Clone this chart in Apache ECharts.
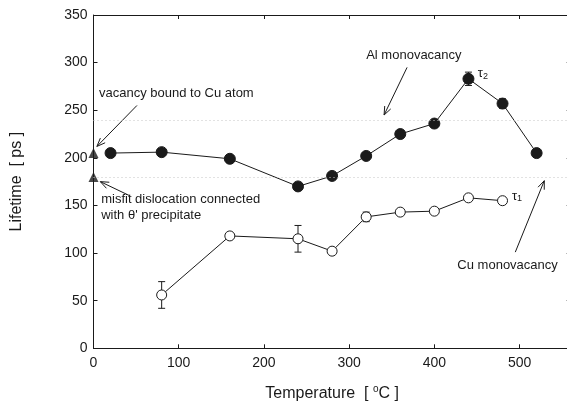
<!DOCTYPE html>
<html>
<head>
<meta charset="utf-8">
<script src="https://cdn.jsdelivr.net/npm/echarts@6/dist/echarts.min.js"></script>
<style>
  html, body { margin: 0; padding: 0; background: #fff; }
  #chart { width: 567px; height: 406px; }
</style>
</head>
<body>
<div id="chart"></div>
<script>
// temperatures and lifetimes
const temps2 = [20, 80, 160, 240, 280, 320, 360, 400, 440, 480, 520]
const tau2 = [205, 206, 199, 170, 181, 202, 225, 236, 283, 257, 205]
const err2 = [0, 0, 0, 0, 0, 0, 0, 0, 7, 5, 0]

const temps1 = [80, 160, 240, 280, 320, 360, 400, 440, 480]
const tau1 = [56, 118, 115, 102, 138, 143, 144, 158, 155]
const err1 = [14, 0, 14, 0, 5, 0, 0, 0, 0]

// calculated lifetimes at 0 °C (triangles)
const theoryT = [0, 0]
const theoryV = [205, 180]

// dotted reference levels
const refLevels = [180, 240]

const xTicks = [0, 100, 200, 300, 400, 500]
const yTicks = [0, 50, 100, 150, 200, 250, 300, 350]

const font = 'Liberation Sans, Arial, sans-serif'
const ink = '#1a1a1a'

const chart = echarts.init(document.getElementById('chart'), null, { renderer: 'canvas' })

const errorBars = (xs, ys, es) => ({
  type: 'custom',
  data: xs.map((x, i) => [x, ys[i], es[i]]).filter(d => d[2] > 0),
  z: 1,
  renderItem: (params, api) => {
    const x = api.value(0), y = api.value(1), e = api.value(2)
    const top = api.coord([x, y + e])
    const bot = api.coord([x, y - e])
    const w = 3.5
    const st = { stroke: ink, lineWidth: 1 }
    return {
      type: 'group',
      children: [
        { type: 'line', shape: { x1: top[0], y1: top[1], x2: bot[0], y2: bot[1] }, style: st },
        { type: 'line', shape: { x1: top[0] - w, y1: top[1], x2: top[0] + w, y2: top[1] }, style: st },
        { type: 'line', shape: { x1: bot[0] - w, y1: bot[1], x2: bot[0] + w, y2: bot[1] }, style: st },
      ],
    }
  },
})

const axisCommon = {
  axisLine: { onZero: false, lineStyle: { color: ink, width: 1 } },
  axisTick: { inside: true, length: 4, lineStyle: { color: ink } },
  splitLine: { show: false },
}

chart.setOption({
  animation: false,
  backgroundColor: '#fff',
  grid: { left: 93.5, right: -3.7, top: 15, bottom: 57.7, outerBoundsMode: 'none', containLabel: false },
  xAxis: [
    {
      ...axisCommon, type: 'value', min: 0, max: 560, interval: 100,
      position: 'bottom',
      axisLabel: { color: ink, fontSize: 14, fontFamily: font, margin: 8,
        formatter: v => xTicks.includes(v) ? String(v) : '' },
      name: '{n|Temperature  [ }{s|o}{n|C ]}',
      nameLocation: 'middle', nameGap: 36,
      nameTextStyle: {
        rich: {
          n: { fontSize: 16, fontFamily: font, color: ink },
          s: { fontSize: 10, fontFamily: font, color: ink, verticalAlign: 'top', padding: [0, 0, 9, 0] },
        },
      },
    },
    { ...axisCommon, type: 'value', min: 0, max: 560, interval: 100, position: 'top', axisLabel: { show: false } },
  ],
  yAxis: [
    {
      ...axisCommon, type: 'value', min: 0, max: 350, interval: 50,
      position: 'left',
      axisLabel: { color: ink, fontSize: 14, fontFamily: font, margin: 6,
        formatter: v => yTicks.includes(v) ? String(v) : '' },
      name: 'Lifetime  [ ps ]', nameLocation: 'middle', nameGap: 69,
      nameTextStyle: { fontSize: 16, fontFamily: font, color: ink },
    },
    {
      ...axisCommon, type: 'value', min: 0, max: 350, interval: 50, position: 'right',
      axisLine: { show: false, onZero: false },
      axisLabel: { show: false },
    },
  ],
  series: [
    {
      type: 'line', name: 'ref', data: [], silent: true,
      markLine: {
        silent: true, symbol: 'none', label: { show: false },
        lineStyle: { color: '#c4c4c4', type: [1, 3], width: 1 },
        data: refLevels.map(v => ({ yAxis: v })),
      },
    },
    {
      type: 'line', name: 'tau2', data: temps2.map((t, i) => [t, tau2[i]]),
      symbol: 'circle', symbolSize: 11, z: 3,
      lineStyle: { color: ink, width: 1 },
      itemStyle: { color: ink, borderColor: ink, borderWidth: 1 },
    },
    {
      type: 'line', name: 'tau1', data: temps1.map((t, i) => [t, tau1[i]]),
      symbol: 'circle', symbolSize: 10, z: 3,
      lineStyle: { color: ink, width: 1 },
      itemStyle: { color: '#fff', borderColor: ink, borderWidth: 1 },
    },
    {
      type: 'scatter', name: 'theory', data: theoryT.map((t, i) => [t, theoryV[i]]),
      symbol: 'triangle', symbolSize: 10, clip: false, z: 4,
      itemStyle: { color: ink },
    },
    errorBars(temps2, tau2, err2),
    errorBars(temps1, tau1, err1),
  ],
})

// annotations: text (left edge, vertical centre) and arrows, in data coordinates
const notes = [
  { text: 'vacancy bound to Cu atom', at: [6.5, 268], from: [51, 255], to: [4, 212] },
  { text: 'misfit dislocation connected\nwith θ\' precipitate', at: [9, 148.4], from: [43, 160], to: [8, 175] },
  { text: 'Al monovacancy', at: [320, 308], from: [368, 295], to: [341, 245] },
  { text: 'Cu monovacancy', at: [427, 87.5], from: [495, 101], to: [529, 176] },
]
const subs = [
  { main: 'τ', sub: '2', at: [451, 289] },
  { main: 'τ', sub: '1', at: [491, 160] },
]

const px = p => chart.convertToPixel({ xAxisIndex: 0, yAxisIndex: 0 }, p)
const graphics = []
notes.forEach(n => {
  const a = px(n.at), f = px(n.from), t = px(n.to)
  graphics.push({
    type: 'text', x: a[0], y: a[1],
    style: { text: n.text, fill: ink, font: '13px ' + font, lineHeight: 16, verticalAlign: 'middle' },
  })
  const ang = Math.atan2(t[1] - f[1], t[0] - f[0])
  const L = 9, spread = 0.38
  const h1 = [t[0] - L * Math.cos(ang - spread), t[1] - L * Math.sin(ang - spread)]
  const h2 = [t[0] - L * Math.cos(ang + spread), t[1] - L * Math.sin(ang + spread)]
  graphics.push({ type: 'line', shape: { x1: f[0], y1: f[1], x2: t[0], y2: t[1] }, style: { stroke: ink, lineWidth: 1 } })
  graphics.push({ type: 'polyline', shape: { points: [h1, t, h2] }, style: { stroke: ink, lineWidth: 1, fill: null } })
})
subs.forEach(s => {
  const a = px(s.at)
  graphics.push({
    type: 'text', x: a[0], y: a[1],
    style: {
      text: '{m|' + s.main + '}{s|' + s.sub + '}',
      verticalAlign: 'middle',
      rich: {
        m: { fontSize: 13, fontFamily: font, fill: ink },
        s: { fontSize: 9, fontFamily: font, fill: ink, verticalAlign: 'bottom', padding: [6, 0, 0, 0] },
      },
    },
  })
})
chart.setOption({ graphic: graphics })
</script>
</body>
</html>
